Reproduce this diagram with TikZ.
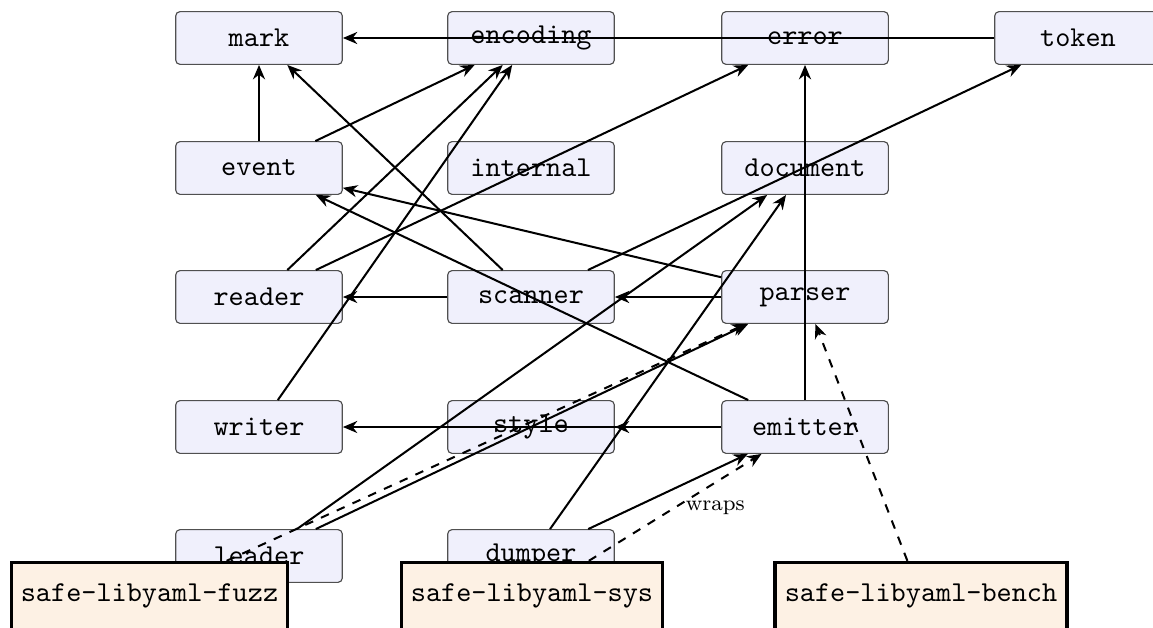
\documentclass[tikz,border=0pt]{standalone}
\usetikzlibrary{arrows.meta}
\definecolor{modfill}{RGB}{240,240,252}
\definecolor{modline}{RGB}{80,80,80}
\definecolor{cratefill}{RGB}{253,241,228}
\begin{document}
\begin{tikzpicture}[x=0.3469pt, y=-0.3469pt,
  mod/.style={draw=modline, line width=0.4pt, fill=modfill, rounded corners=1.5pt,
    minimum width=57.8pt, minimum height=18.3pt, inner sep=0pt, font=\ttfamily},
  crate/.style={draw=black, line width=1.2pt, fill=cratefill,
    minimum height=23.2pt, inner sep=3.33pt, font=\ttfamily},
  dep/.style={-{Stealth[length=5pt,width=4.2pt]}, line width=0.7pt},
  wrap/.style={dep, dashed},
  lbl/.style={font=\fontsize{7.5}{9}\selectfont}]
\useasboundingbox (0,0) rectangle (1153,627);
\clip (0,0) rectangle (1153,627);

% module grid
\node[mod] (mark)     at (259,38)  {mark};
\node[mod] (encoding) at (531,38)  {encoding};
\node[mod] (error)    at (805,38)  {error};
\node[mod] (token)    at (1078,38) {token};
\node[mod] (event)    at (259,168) {event};
\node[mod] (internal) at (531,168) {internal};
\node[mod] (document) at (805,168) {document};
\node[mod] (reader)   at (259,297) {reader};
\node[mod] (scanner)  at (531,297) {scanner};
\node[mod] (parser)   at (805,297) {parser};
\node[mod] (writer)   at (259,427) {writer};
\node[mod] (style)    at (531,427) {style};
\node[mod] (emitter)  at (805,427) {emitter};
\node[mod] (leader)   at (259,556) {leader};
\node[mod] (dumper)   at (531,556) {dumper};

% crates
\node[crate] (fuzz)  at (149.5,596) {safe-libyaml-fuzz};
\node[crate] (sys)   at (532,596)   {safe-libyaml-sys};
\node[crate] (bench) at (921,596)   {safe-libyaml-bench};

% module dependencies
\draw[dep] (token) -- (mark);
\draw[dep] (event) -- (mark);
\draw[dep] (scanner) -- (mark);
\draw[dep] (event) -- (encoding);
\draw[dep] (reader) -- (encoding);
\draw[dep] (writer) -- (encoding);
\draw[dep] (reader) -- (error);
\draw[dep] (emitter) -- (error);
\draw[dep] (scanner) -- (token);
\draw[dep] (parser) -- (event);
\draw[dep] (emitter) -- (event);
\draw[dep] (scanner) -- (reader);
\draw[dep] (parser) -- (scanner);
\draw[dep] (emitter) -- (style);
\draw[dep] (emitter) -- (writer);
\draw[dep] (leader) -- (document);
\draw[dep] (dumper) -- (document);
\draw[dep] (leader) -- (parser);
\draw[dep] (dumper) -- (emitter);

% crate relations
\draw[wrap] (fuzz) -- (parser);
\draw[wrap] (sys) -- node[midway, right, lbl] {wraps} (emitter);
\draw[wrap] (bench) -- (parser);
\end{tikzpicture}
\end{document}
